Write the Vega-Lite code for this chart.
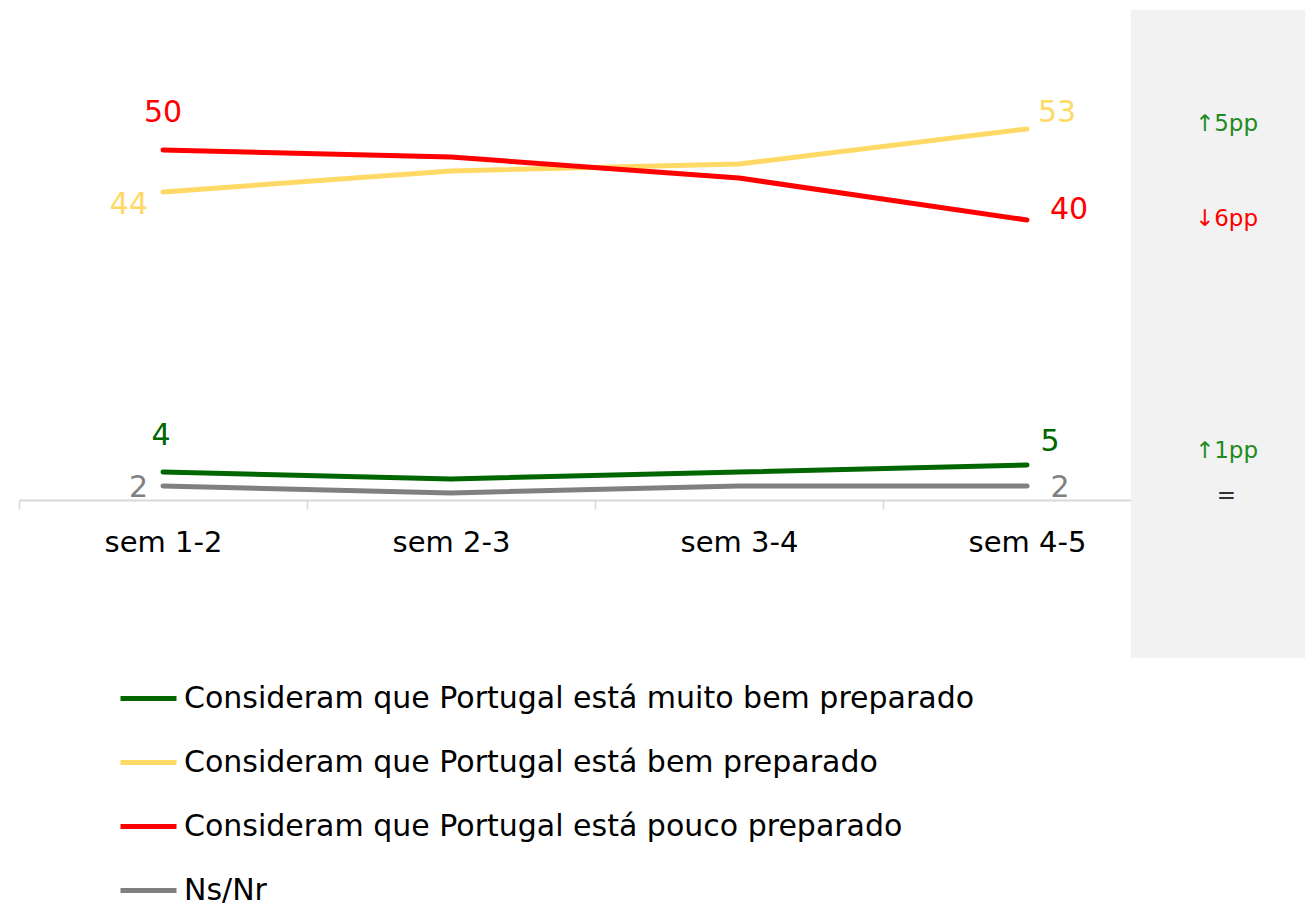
{
  "$schema": "https://vega.github.io/schema/vega-lite/v6.json",
  "padding": {"left": 18, "top": 10, "right": 0, "bottom": 0},
  "autosize": {"type": "pad"},
  "background": "white",
  "bounds": "flush",
  "spacing": 0,
  "config": {
    "font": "DejaVu Sans",
    "view": {"stroke": null},
    "legend": {
      "symbolType": "stroke",
      "symbolSize": 3136,
      "symbolStrokeWidth": 5,
      "labelFontSize": 30,
      "labelOffset": 5,
      "labelColor": "#000000",
      "rowPadding": 18,
      "labelLimit": 1200
    }
  },
  "resolve": {"scale": {"color": "independent", "y": "independent"}},
  "datasets": {
    "survey": [
      {"sem": "sem 1-2", "series": "Consideram que Portugal está muito bem preparado", "value": 4},
      {"sem": "sem 2-3", "series": "Consideram que Portugal está muito bem preparado", "value": 3},
      {"sem": "sem 3-4", "series": "Consideram que Portugal está muito bem preparado", "value": 4},
      {"sem": "sem 4-5", "series": "Consideram que Portugal está muito bem preparado", "value": 5},
      {"sem": "sem 1-2", "series": "Consideram que Portugal está bem preparado", "value": 44},
      {"sem": "sem 2-3", "series": "Consideram que Portugal está bem preparado", "value": 47},
      {"sem": "sem 3-4", "series": "Consideram que Portugal está bem preparado", "value": 48},
      {"sem": "sem 4-5", "series": "Consideram que Portugal está bem preparado", "value": 53},
      {"sem": "sem 1-2", "series": "Consideram que Portugal está pouco preparado", "value": 50},
      {"sem": "sem 2-3", "series": "Consideram que Portugal está pouco preparado", "value": 49},
      {"sem": "sem 3-4", "series": "Consideram que Portugal está pouco preparado", "value": 46},
      {"sem": "sem 4-5", "series": "Consideram que Portugal está pouco preparado", "value": 40},
      {"sem": "sem 1-2", "series": "Ns/Nr", "value": 2},
      {"sem": "sem 2-3", "series": "Ns/Nr", "value": 1},
      {"sem": "sem 3-4", "series": "Ns/Nr", "value": 2},
      {"sem": "sem 4-5", "series": "Ns/Nr", "value": 2}
    ],
    "changes": [
      {"label": "↑5pp", "dir": "up", "pos": 53.7},
      {"label": "↓6pp", "dir": "down", "pos": 40.1},
      {"label": "↑1pp", "dir": "up", "pos": 7},
      {"label": "=", "dir": "same", "pos": 0.6}
    ]
  },
  "hconcat": [
    {
      "width": 1112,
      "height": 490,
      "data": {"name": "survey"},
      "encoding": {
        "x": {
          "field": "sem", "type": "ordinal",
          "scale": {"type": "band", "range": [0, 1152], "paddingInner": 0, "paddingOuter": 0},
          "axis": {
            "title": null, "labelAngle": 0, "labelFontSize": 29, "labelColor": "#000000",
            "domainColor": "#d9d9d9", "domainWidth": 2, "tickColor": "#d9d9d9", "tickWidth": 1.5,
            "tickSize": 9, "tickBand": "extent", "labelPadding": 19, "grid": false
          }
        },
        "y": {
          "field": "value", "type": "quantitative",
          "scale": {"domain": [0, 70], "nice": false, "zero": true},
          "axis": null
        },
        "color": {
          "field": "series", "type": "nominal",
          "scale": {
            "domain": ["Consideram que Portugal está muito bem preparado", "Consideram que Portugal está bem preparado", "Consideram que Portugal está pouco preparado", "Ns/Nr"],
            "range": ["#006600", "#FFD966", "#FF0000", "#808080"]
          },
          "legend": {"title": null, "orient": "none", "legendX": 99, "legendY": 658, "direction": "vertical"}
        }
      },
      "layer": [
        {"mark": {"type": "line", "strokeWidth": 5, "strokeCap": "round", "strokeJoin": "round"}},
        {"transform": [{"filter": "datum.sem === 'sem 1-2' && datum.series === 'Consideram que Portugal está pouco preparado'"}],
         "mark": {"type": "text", "fontSize": 30, "align": "center", "baseline": "middle", "dy": -37},
         "encoding": {"text": {"field": "value"}}},
        {"transform": [{"filter": "datum.sem === 'sem 1-2' && datum.series === 'Consideram que Portugal está bem preparado'"}],
         "mark": {"type": "text", "fontSize": 30, "align": "right", "baseline": "middle", "dx": -15, "dy": 13},
         "encoding": {"text": {"field": "value"}}},
        {"transform": [{"filter": "datum.sem === 'sem 1-2' && datum.series === 'Consideram que Portugal está muito bem preparado'"}],
         "mark": {"type": "text", "fontSize": 30, "align": "center", "baseline": "middle", "dx": -2, "dy": -36},
         "encoding": {"text": {"field": "value"}}},
        {"transform": [{"filter": "datum.sem === 'sem 1-2' && datum.series === 'Ns/Nr'"}],
         "mark": {"type": "text", "fontSize": 30, "align": "right", "baseline": "middle", "dx": -15, "dy": 2},
         "encoding": {"text": {"field": "value"}}},
        {"transform": [{"filter": "datum.sem === 'sem 4-5' && datum.series === 'Consideram que Portugal está bem preparado'"}],
         "mark": {"type": "text", "fontSize": 30, "align": "left", "baseline": "middle", "dx": 11, "dy": -16},
         "encoding": {"text": {"field": "value"}}},
        {"transform": [{"filter": "datum.sem === 'sem 4-5' && datum.series === 'Consideram que Portugal está pouco preparado'"}],
         "mark": {"type": "text", "fontSize": 30, "align": "left", "baseline": "middle", "dx": 23, "dy": -10},
         "encoding": {"text": {"field": "value"}}},
        {"transform": [{"filter": "datum.sem === 'sem 4-5' && datum.series === 'Consideram que Portugal está muito bem preparado'"}],
         "mark": {"type": "text", "fontSize": 30, "align": "center", "baseline": "middle", "dx": 23, "dy": -23},
         "encoding": {"text": {"field": "value"}}},
        {"transform": [{"filter": "datum.sem === 'sem 4-5' && datum.series === 'Ns/Nr'"}],
         "mark": {"type": "text", "fontSize": 30, "align": "center", "baseline": "middle", "dx": 33, "dy": 2},
         "encoding": {"text": {"field": "value"}}}
      ]
    },
    {
      "width": 175,
      "height": 648,
      "view": {"fill": "#f2f2f2", "stroke": null},
      "data": {"name": "changes"},
      "mark": {"type": "text", "fontSize": 23, "align": "center", "baseline": "middle", "dx": 8},
      "encoding": {
        "y": {"field": "pos", "type": "quantitative", "scale": {"domain": [-22.57, 70], "nice": false, "zero": false}, "axis": null},
        "text": {"field": "label"},
        "color": {
          "field": "dir", "type": "nominal",
          "scale": {"domain": ["up", "down", "same"], "range": ["#1E8A1E", "#FF0000", "#333333"]},
          "legend": null
        }
      }
    }
  ]
}
